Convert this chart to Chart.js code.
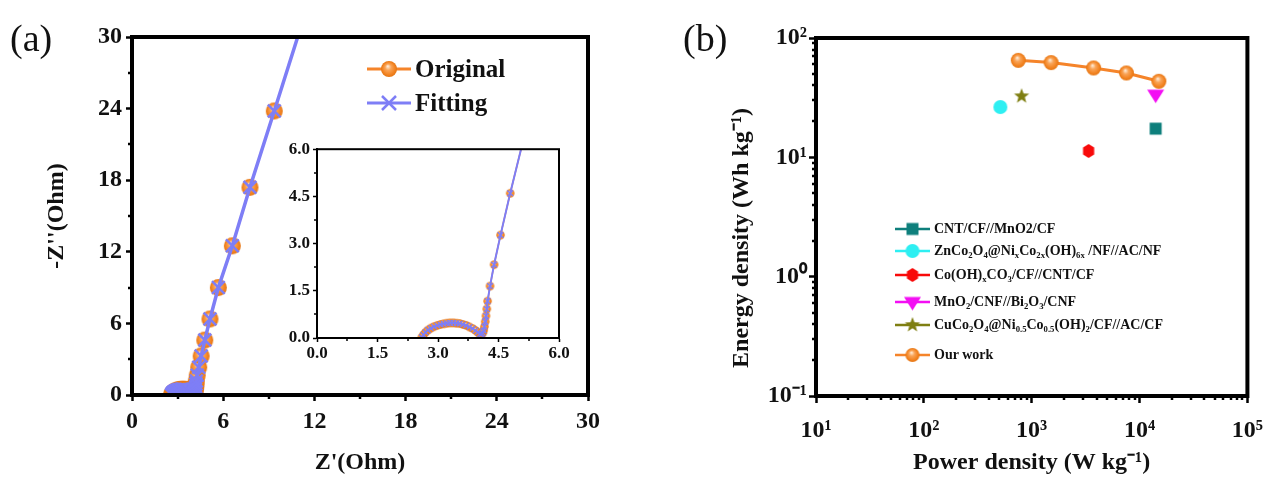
<!DOCTYPE html>
<html><head><meta charset="utf-8">
<script src="https://cdn.jsdelivr.net/npm/chart.js@4.4.1/dist/chart.umd.min.js"></script>
<style>
html,body{margin:0;padding:0;background:#fff;}
#wrap{position:relative;width:1276px;height:477px;overflow:hidden;font-family:'Liberation Serif','Times New Roman',serif;color:#111;}
#wrap canvas.c{position:absolute;}
.lbl{position:absolute;font-size:38px;line-height:1;}
.leg{position:absolute;font-weight:bold;white-space:nowrap;display:flex;align-items:center;}
.leg sub{font-size:62%;vertical-align:-0.3em;line-height:0;}
</style></head><body>
<div id="wrap">
<canvas class="c" id="ca" width="640" height="477" style="left:0;top:0"></canvas>
<canvas class="c" id="cb" width="636" height="477" style="left:640px;top:0"></canvas>
<canvas class="c" id="ci" width="300" height="229" style="left:280px;top:136px"></canvas>
<div class="lbl" style="left:10px;top:19px">(a)</div>
<div class="lbl" style="left:683px;top:19px">(b)</div>
</div>
<script>
// ---------- data: panel (a) Nyquist plot ----------
const zRe = [2.60,2.64,2.69,2.75,2.82,2.90,2.98,3.06,3.14,3.22,3.30,3.38,3.46,3.54,3.62,3.70,3.78,3.86,3.93,3.99,4.04,4.08,4.11,4.13,4.15,4.17,4.19,4.21,4.23,4.29,4.39,4.55,4.79,5.13,5.68,6.60,7.76,9.36];
const zIm = [0.02,0.10,0.18,0.25,0.31,0.36,0.40,0.43,0.45,0.47,0.48,0.48,0.47,0.46,0.43,0.40,0.35,0.30,0.24,0.18,0.13,0.12,0.16,0.24,0.36,0.52,0.70,0.92,1.17,1.65,2.33,3.27,4.60,6.37,9.00,12.50,17.40,23.80];
const fitRe = [2.60,2.64,2.69,2.75,2.82,2.90,2.98,3.06,3.14,3.22,3.30,3.38,3.46,3.54,3.62,3.70,3.78,3.86,3.93,3.99,4.04,4.08,4.11,4.13,4.15,4.17,4.19,4.21,4.23,4.29,4.39,4.55,4.79,5.13,5.68,6.60,7.76,9.36,11.20];
const fitIm = [0.02,0.10,0.18,0.25,0.31,0.36,0.40,0.43,0.45,0.47,0.48,0.48,0.47,0.46,0.43,0.40,0.35,0.30,0.24,0.18,0.13,0.12,0.16,0.24,0.36,0.52,0.70,0.92,1.17,1.65,2.33,3.27,4.60,6.37,9.00,12.50,17.40,23.80,31.20];
const aTicks = [0,6,12,18,24,30];
const aMinor = [3,9,15,21,27];
const insetTicks = [0,1.5,3,4.5,6];
const insetLabels = ['0.0','1.5','3.0','4.5','6.0'];
const insetMinor = [0.75,2.25,3.75,5.25];
const aSeries = ['Original','Fitting'];

// ---------- data: panel (b) Ragone plot ----------
const refNames = ['CNT/CF//MnO2/CF','ZnCo2O4@NixCo2x(OH)6x /NF//AC/NF','Co(OH)xCO3/CF//CNT/CF','MnO2/CNF//Bi2O3/CNF','CuCo2O4@Ni0.5Co0.5(OH)2/CF//AC/CF'];
const refLegendHtml = ['CNT/CF//MnO2/CF',
  'ZnCo<sub>2</sub>O<sub>4</sub>@Ni<sub>x</sub>Co<sub>2x</sub>(OH)<sub>6x</sub> /NF//AC/NF',
  'Co(OH)<sub>x</sub>CO<sub>3</sub>/CF//CNT/CF',
  'MnO<sub>2</sub>/CNF//Bi<sub>2</sub>O<sub>3</sub>/CNF',
  'CuCo<sub>2</sub>O<sub>4</sub>@Ni<sub>0.5</sub>Co<sub>0.5</sub>(OH)<sub>2</sub>/CF//AC/CF'];
const refP = [14100, 512, 3370, 14100, 806];
const refE = [17.4, 26.4, 11.3, 33.5, 32.5];
const ourName = 'Our work';
const ourP = [751, 1513, 3750, 7550, 15100];
const ourE = [65.0, 62.2, 56.1, 50.9, 43.4];
const bXTicks = [10,100,1000,10000,100000];
const bXLabels = ['10\u00B9','10\u00B2','10\u00B3','10\u2074','10\u2075'];
const bYTicks = [0.1,1,10,100];
const bYLabels = ['10\u207B\u00B9','10\u2070','10\u00B9','10\u00B2'];

// ---------- styles ----------
const FONT = "'Liberation Serif','Times New Roman',serif";
const ORANGE = '#F5842A';
const BLUE = '#7E7EF6';
const refColors = ['#0E7F7C','#2EEFF2','#F80A0A','#F30FF3','#7F7F12'];
const refShapes = ['square','circle','hex','tridown','star'];

function mk(size){const c=document.createElement('canvas');c.width=c.height=size;return c;}
function ball(r){
  const s=Math.ceil(2*r+2), c=mk(s), g=c.getContext('2d'), m=s/2;
  const gr=g.createRadialGradient(m-r*0.15,m-r*0.35,r*0.05,m,m,r);
  gr.addColorStop(0,'#FFE9D2');gr.addColorStop(0.35,'#F9A458');gr.addColorStop(0.75,'#F38524');gr.addColorStop(1,'#E57512');
  g.fillStyle=gr;g.beginPath();g.arc(m,m,r,0,Math.PI*2);g.fill();return c;
}
function pathShape(g,kind,cx,cy,r){
  g.beginPath();
  if(kind==='square'){g.rect(cx-r*0.8,cy-r*0.8,r*1.6,r*1.6);}
  else if(kind==='circle'){g.arc(cx,cy,r,0,Math.PI*2);}
  else if(kind==='hex'){for(let k=0;k<6;k++){const a=-Math.PI/2+k*Math.PI/3;const px=cx+r*0.92*Math.cos(a),py=cy+r*Math.sin(a);k?g.lineTo(px,py):g.moveTo(px,py);}g.closePath();}
  else if(kind==='tridown'){g.moveTo(cx-r,cy-r*0.6);g.lineTo(cx+r,cy-r*0.6);g.lineTo(cx,cy+r*1.0);g.closePath();}
  else if(kind==='star'){for(let k=0;k<10;k++){const a=-Math.PI/2+k*Math.PI/5;const rr=k%2?r*0.42:r;const px=cx+rr*Math.cos(a),py=cy+rr*Math.sin(a);k?g.lineTo(px,py):g.moveTo(px,py);}g.closePath();}
}
const shapeR = {square:7.5,circle:7,hex:7,tridown:8.5,star:8};
function shapeImg(kind,color){
  const r=shapeR[kind], s=Math.ceil(2*r+4), c=mk(s), g=c.getContext('2d');
  g.fillStyle=color;pathShape(g,kind,s/2,s/2,r);g.fill();return c;
}

// ---------- plugins ----------
const framePlugin={id:'frame',afterDraw(chart,args,opts){const {ctx,chartArea:a}=chart;ctx.save();ctx.strokeStyle='#000';ctx.lineWidth=opts.width||3;ctx.strokeRect(a.left,a.top,a.right-a.left,a.bottom-a.top);ctx.restore();}};
const minorPlugin={id:'minor',afterDraw(chart,args,opts){
  const ctx=chart.ctx,a=chart.chartArea,xs=chart.scales.x,ys=chart.scales.y,L=opts.len||4;
  ctx.save();ctx.strokeStyle='#000';ctx.lineWidth=opts.width||2;
  (opts.x||[]).forEach(v=>{const p=Math.round(xs.getPixelForValue(v));ctx.beginPath();ctx.moveTo(p,a.bottom);ctx.lineTo(p,a.bottom+L);ctx.stroke();});
  (opts.y||[]).forEach(v=>{const p=Math.round(ys.getPixelForValue(v));ctx.beginPath();ctx.moveTo(a.left,p);ctx.lineTo(a.left-L,p);ctx.stroke();});
  ctx.restore();}};

function axis(o){
  const base={
    ticks:{font:{family:FONT,size:o.fs,weight:'bold'},color:'#111',padding:o.pad,maxRotation:0,autoSkip:false,
      callback:o.labels?((v,i)=>o.labels[i]):undefined},
    grid:{drawOnChartArea:false,drawTicks:true,tickLength:o.tl,tickWidth:o.tw,tickColor:'#000'},
    border:{display:true,color:'#000',width:o.bw},
    afterBuildTicks:s=>{s.ticks=o.ticks.map(v=>({value:v}));}
  };
  if(o.size!==undefined){base.afterFit=s=>{if(o.horiz)s.height=o.size;else s.width=o.size;};}
  if(o.title){base.title={display:true,text:o.title,color:'#111',font:{family:FONT,size:o.tfs,weight:'bold'},padding:o.tpad};}
  return Object.assign(base,o.extra);
}
const pts=(xs,ys)=>xs.map((x,i)=>({x,y:ys[i]}));
const common={responsive:false,animation:false,events:[],plugins:{legend:{display:false},tooltip:{enabled:false}}};

// ---------- panel (a) main ----------
const lastHidden=(r)=>(ctx)=>ctx.dataIndex===fitRe.length-1?0:r;
new Chart(document.getElementById('ca'),{
  type:'scatter',
  data:{datasets:[
    {label:aSeries[1],data:pts(fitRe,fitIm),showLine:true,borderColor:BLUE,borderWidth:3.5,pointStyle:'crossRot',pointRadius:lastHidden(9),pointBorderWidth:2.5,pointBorderColor:BLUE,order:0},
    {label:aSeries[0],data:pts(zRe,zIm),showLine:true,borderColor:ORANGE,borderWidth:2,pointStyle:ball(8.5),pointRadius:8,order:1}
  ]},
  options:Object.assign({},common,{
    layout:{padding:{left:0,top:37,right:52,bottom:0}},
    scales:{
      x:axis({ticks:aTicks,fs:24,pad:6,tl:6,tw:2.5,bw:4,size:82,horiz:true,title:"Z'(Ohm)",tfs:24,tpad:{top:0,bottom:0},extra:{type:'linear',min:0,max:30}}),
      y:axis({ticks:aTicks,fs:24,pad:4,tl:6,tw:2.5,bw:4,size:132,title:"-Z''(Ohm)",tfs:24,tpad:{top:42,bottom:0},extra:{type:'linear',min:0,max:30}})
    },
    plugins:Object.assign({},common.plugins,{minor:{x:aMinor,y:aMinor,len:4,width:2.5},frame:{width:4}})
  }),
  plugins:[minorPlugin,framePlugin]
});

// ---------- panel (a) inset ----------
new Chart(document.getElementById('ci'),{
  type:'scatter',
  data:{datasets:[
    {label:aSeries[1],data:pts(fitRe,fitIm),showLine:true,borderColor:BLUE,borderWidth:2,pointStyle:'crossRot',pointRadius:lastHidden(4),pointBorderWidth:1.3,pointBorderColor:BLUE,order:0},
    {label:aSeries[0],data:pts(zRe,zIm),showLine:true,borderColor:ORANGE,borderWidth:1.5,pointStyle:ball(4.2),pointRadius:4,order:1}
  ]},
  options:Object.assign({},common,{
    layout:{padding:{left:0,top:12,right:21,bottom:0}},
    scales:{
      x:axis({ticks:insetTicks,labels:insetLabels,fs:17,pad:1,tl:4,tw:1.5,bw:2,size:27,horiz:true,extra:{type:'linear',min:0,max:6}}),
      y:axis({ticks:insetTicks,labels:insetLabels,fs:17,pad:3,tl:4,tw:1.5,bw:2,size:37,extra:{type:'linear',min:0,max:6}})
    },
    plugins:Object.assign({},common.plugins,{minor:{x:insetMinor,y:insetMinor,len:3,width:1.5},frame:{width:2}})
  }),
  plugins:[minorPlugin,framePlugin]
});

// ---------- panel (b) ----------
const xMinor=[],yMinor=[];
[10,100,1000,10000].forEach(d=>{for(let k=2;k<10;k++)xMinor.push(d*k);});
[0.1,1,10].forEach(d=>{for(let k=2;k<10;k++)yMinor.push(d*k);});
const bSets=refNames.map((n,i)=>({label:n,data:[{x:refP[i],y:refE[i]}],showLine:false,pointStyle:shapeImg(refShapes[i],refColors[i]),pointRadius:7}));
bSets.push({label:ourName,data:pts(ourP,ourE),showLine:true,borderColor:ORANGE,borderWidth:3,pointStyle:ball(7.5),pointRadius:7});
new Chart(document.getElementById('cb'),{
  type:'scatter',
  data:{datasets:bSets},
  options:Object.assign({},common,{
    layout:{padding:{left:0,top:38,right:21,bottom:0}},
    scales:{
      x:axis({ticks:bXTicks,labels:bXLabels,fs:24,pad:13,tl:7,tw:2.5,bw:4,size:81,horiz:true,title:'Power density (W kg\u207B\u00B9)',tfs:24,tpad:{top:0,bottom:0},extra:{type:'logarithmic',min:10,max:100000}}),
      y:axis({ticks:bYTicks,labels:bYLabels,fs:24,pad:2,tl:7,tw:2.5,bw:4,size:176,title:'Energy density (Wh kg\u207B\u00B9)       ',tfs:24,tpad:{top:87,bottom:0},extra:{type:'logarithmic',min:0.1,max:100}})
    },
    plugins:Object.assign({},common.plugins,{minor:{x:xMinor,y:yMinor,len:4,width:2.5},frame:{width:4}})
  }),
  plugins:[minorPlugin,framePlugin]
});

// ---------- legends (HTML, with sub/superscripts) ----------
const wrap=document.getElementById('wrap');
function legendMark(w,h,color,lw,drawM){
  const c=document.createElement('canvas');c.width=w;c.height=h;const g=c.getContext('2d');
  g.strokeStyle=color;g.lineWidth=lw;g.beginPath();g.moveTo(0,h/2);g.lineTo(w,h/2);g.stroke();
  drawM(g,w/2,h/2);return c;
}
function legendRow(left,cy,h,fs,mark,html){
  const d=document.createElement('div');d.className='leg';
  d.style.left=left+'px';d.style.top=(cy-h/2)+'px';d.style.height=h+'px';d.style.fontSize=fs+'px';
  d.appendChild(mark);const s=document.createElement('span');s.innerHTML=html;s.style.marginLeft='4px';d.appendChild(s);wrap.appendChild(d);
}
// (a) legend
legendRow(367,69,28,25,legendMark(44,20,ORANGE,3,(g,x,y)=>{const b=ball(8);g.drawImage(b,x-b.width/2,y-b.height/2);}),aSeries[0]);
legendRow(367,103,28,25,legendMark(44,20,BLUE,3,(g,x,y)=>{g.strokeStyle=BLUE;g.lineWidth=2.5;g.beginPath();g.moveTo(x-7,y-7);g.lineTo(x+7,y+7);g.moveTo(x+7,y-7);g.lineTo(x-7,y+7);g.stroke();}),aSeries[1]);
// (b) legend
const bLegY=[229,251,275,302,325,355];
refLegendHtml.forEach((html,i)=>{
  legendRow(895,bLegY[i],20,14,legendMark(35,18,refColors[i],2.5,(g,x,y)=>{const im=shapeImg(refShapes[i],refColors[i]);g.drawImage(im,x-im.width/2,y-im.height/2);}),html);
});
legendRow(895,bLegY[5],20,14,legendMark(35,18,ORANGE,2.5,(g,x,y)=>{const b=ball(7);g.drawImage(b,x-b.width/2,y-b.height/2);}),ourName);
</script>
</body></html>
